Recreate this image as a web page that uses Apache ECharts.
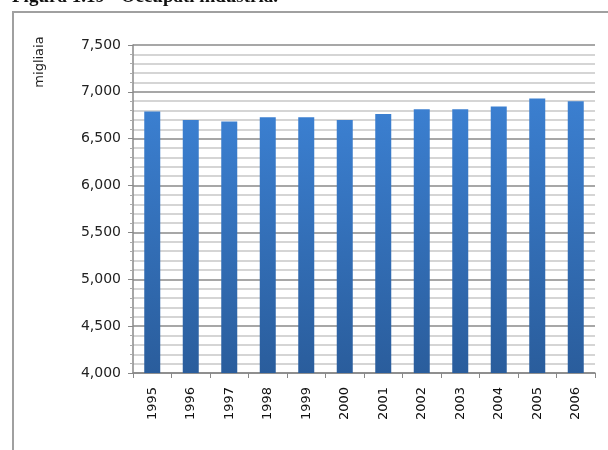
<!DOCTYPE html>
<html>
<head>
<meta charset="utf-8">
<style>
  html, body { margin: 0; padding: 0; background: #fff; }
  #chart { width: 608px; height: 450px; }
</style>
<script src="https://cdn.jsdelivr.net/npm/echarts@6/dist/echarts.min.js"></script>
</head>
<body>
<div id="chart"></div>
<script>
// 数据
const years = ['1995', '1996', '1997', '1998', '1999', '2000', '2001', '2002', '2003', '2004', '2005', '2006'];
const occupati = [6790, 6700, 6685, 6730, 6730, 6700, 6765, 6815, 6815, 6845, 6930, 6900];
const yTicks = [4000, 4500, 5000, 5500, 6000, 6500, 7000, 7500];

const chartDom = document.getElementById('chart');
const myChart = echarts.init(chartDom);

const option = {
    animation: false,
    graphic: [
        {
            type: 'text',
            x: 12,
            y: -12,
            style: {
                text: 'Figura 1.19 - Occupati industria.',
                font: 'bold 19px "Liberation Serif", serif',
                fill: '#111'
            }
        },
        {
            type: 'polyline',
            shape: { points: [[13, 460], [13, 12], [620, 12]] },
            style: { stroke: '#a0a0a0', lineWidth: 2, fill: null }
        },
        {
            type: 'text',
            x: 40,
            y: 62,
            rotation: Math.PI / 2,
            style: {
                text: 'migliaia',
                font: '13px "DejaVu Sans", sans-serif',
                fill: '#222',
                align: 'center',
                verticalAlign: 'middle'
            }
        }
    ],
    grid: {
        left: 133,
        right: 13,
        top: 45,
        bottom: 77
    },
    xAxis: {
        type: 'category',
        data: years,
        axisLine: { lineStyle: { color: '#888', width: 1.5 } },
        axisTick: { show: true, length: 5, lineStyle: { color: '#888' } },
        axisLabel: {
            rotate: 90,
            margin: 14,
            color: '#111',
            fontSize: 13,
            fontFamily: 'DejaVu Sans'
        }
    },
    yAxis: {
        type: 'value',
        min: yTicks[0],
        max: yTicks[yTicks.length - 1],
        interval: 500,
        axisLine: { show: true, lineStyle: { color: '#888', width: 1.5 } },
        axisTick: { show: true, length: 5, lineStyle: { color: '#888' } },
        minorTick: { show: true, splitNumber: 5, length: 3, lineStyle: { color: '#aaa' } },
        axisLabel: {
            margin: 12,
            color: '#222',
            fontSize: 14,
            fontFamily: 'DejaVu Sans',
            formatter: v => v.toLocaleString('en-US')
        },
        splitLine: { show: true, lineStyle: { color: '#8a8a8a', width: 1.5 } },
        minorSplitLine: { show: true, lineStyle: { color: '#c8c8c8', width: 1.5 } }
    },
    series: [{
        name: 'Occupati industria',
        type: 'bar',
        data: occupati,
        barWidth: 16,
        itemStyle: {
            color: new echarts.graphic.LinearGradient(0, 0, 0, 1, [
                { offset: 0, color: '#3b7fd0' },
                { offset: 1, color: '#2a5d9c' }
            ])
        }
    }]
};

myChart.setOption(option);
</script>
</body>
</html>
